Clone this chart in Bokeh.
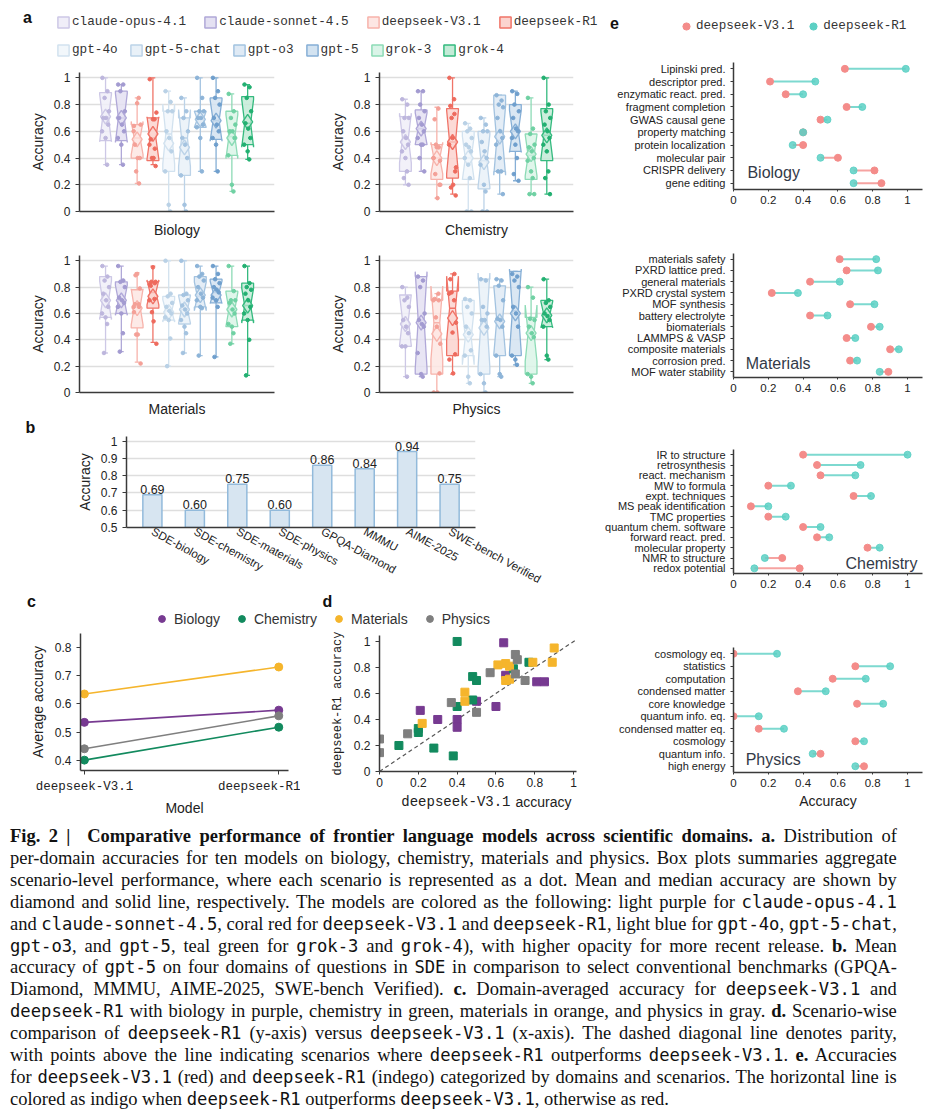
import math
from bokeh.plotting import figure
from bokeh.layouts import row, column
from bokeh.models import (Range1d, FixedTicker, CustomJSTickFormatter, Legend, LegendItem,
                          Label, LabelSet, ColumnDataSource, Slope, Div, Spacer)
from bokeh.embed import file_html
from bokeh.resources import INLINE
from bokeh.core.properties import value

# ======================= DATA =======================
MODELS = ["claude-opus-4.1", "claude-sonnet-4.5", "deepseek-V3.1", "deepseek-R1",
          "gpt-4o", "gpt-5-chat", "gpt-o3", "gpt-5", "grok-3", "grok-4"]
DOMAINS = ["Biology", "Chemistry", "Materials", "Physics"]

# ---- panel e (scenario accuracies for deepseek models) ----
bio_scen = ["Lipinski pred.", "descriptor pred.", "enzymatic react. pred.", "fragment completion",
            "GWAS causal gene", "property matching", "protein localization", "molecular pair",
            "CRISPR delivery", "gene editing"]
bio_v31 = [0.64, 0.21, 0.30, 0.65, 0.50, 0.40, 0.40, 0.60, 0.81, 0.85]
bio_r1 = [0.99, 0.47, 0.40, 0.74, 0.54, 0.40, 0.34, 0.50, 0.69, 0.69]

mat_scen = ["materials safety", "PXRD lattice pred.", "general materials", "PXRD crystal system",
            "MOF synthesis", "battery electrolyte", "biomaterials", "LAMMPS & VASP",
            "composite materials", "corrosion pred.", "MOF water stability"]
mat_v31 = [0.61, 0.65, 0.44, 0.22, 0.67, 0.44, 0.79, 0.65, 0.90, 0.67, 0.89]
mat_r1 = [0.82, 0.83, 0.61, 0.37, 0.81, 0.54, 0.84, 0.70, 0.95, 0.71, 0.84]

chem_scen = ["IR to structure", "retrosynthesis", "react. mechanism", "MW to formula",
             "expt. techniques", "MS peak identification", "TMC properties",
             "quantum chem. software", "forward react. pred.", "molecular property",
             "NMR to structure", "redox potential"]
chem_v31 = [0.40, 0.48, 0.50, 0.20, 0.69, 0.10, 0.20, 0.40, 0.48, 0.77, 0.28, 0.38]
chem_r1 = [1.00, 0.73, 0.70, 0.33, 0.79, 0.20, 0.30, 0.50, 0.55, 0.84, 0.18, 0.12]

phys_scen = ["cosmology eq.", "statistics", "computation", "condensed matter", "core knowledge",
             "quantum info. eq.", "condensed matter eq.", "cosmology", "quantum info.", "high energy"]
phys_v31 = [0.00, 0.70, 0.57, 0.37, 0.71, 0.00, 0.145, 0.70, 0.50, 0.75]
phys_r1 = [0.25, 0.90, 0.76, 0.53, 0.86, 0.145, 0.29, 0.75, 0.455, 0.70]

# ---- panel a box statistics (order of MODELS) ----
bio_lo = [0.35, 0.35, 0.21, 0.35, 0.00, 0.00, 0.30, 0.30, 0.15, 0.39]
bio_q1 = [0.53, 0.53, 0.40, 0.38, 0.30, 0.27, 0.63, 0.54, 0.42, 0.50]
bio_med = [0.70, 0.70, 0.55, 0.55, 0.58, 0.55, 0.69, 0.68, 0.56, 0.66]
bio_q3 = [0.89, 0.90, 0.65, 0.70, 0.75, 0.70, 0.75, 0.85, 0.75, 0.86]
bio_hi = [1.00, 0.95, 0.85, 1.00, 0.90, 0.85, 1.00, 1.00, 0.88, 0.95]
bio_mean = [0.71, 0.70, 0.54, 0.58, 0.51, 0.48, 0.69, 0.68, 0.55, 0.67]

chem_lo = [0.20, 0.30, 0.10, 0.13, 0.00, 0.00, 0.13, 0.23, 0.13, 0.13]
chem_q1 = [0.30, 0.50, 0.24, 0.25, 0.24, 0.17, 0.30, 0.45, 0.24, 0.38]
chem_med = [0.55, 0.62, 0.40, 0.52, 0.40, 0.38, 0.53, 0.60, 0.42, 0.57]
chem_q3 = [0.71, 0.76, 0.50, 0.77, 0.60, 0.60, 0.87, 0.80, 0.58, 0.77]
chem_hi = [0.84, 0.90, 0.78, 1.00, 0.66, 0.70, 0.87, 0.90, 0.85, 1.00]
chem_mean = [0.52, 0.62, 0.40, 0.52, 0.40, 0.37, 0.56, 0.60, 0.43, 0.57]

mat_lo = [0.30, 0.31, 0.23, 0.38, 0.20, 0.30, 0.28, 0.27, 0.37, 0.13]
mat_q1 = [0.57, 0.60, 0.49, 0.64, 0.55, 0.52, 0.65, 0.68, 0.50, 0.55]
mat_med = [0.70, 0.70, 0.65, 0.76, 0.62, 0.63, 0.73, 0.76, 0.63, 0.66]
mat_q3 = [0.88, 0.84, 0.78, 0.84, 0.73, 0.74, 0.88, 0.86, 0.77, 0.83]
mat_hi = [0.96, 0.96, 0.91, 0.96, 1.00, 1.00, 0.96, 0.96, 0.96, 0.96]
mat_mean = [0.70, 0.70, 0.64, 0.73, 0.61, 0.63, 0.74, 0.74, 0.63, 0.66]

phys_lo = [0.12, 0.12, 0.00, 0.14, 0.07, 0.00, 0.12, 0.21, 0.07, 0.25]
phys_q1 = [0.35, 0.14, 0.14, 0.28, 0.28, 0.14, 0.28, 0.28, 0.14, 0.50]
phys_med = [0.55, 0.55, 0.53, 0.64, 0.42, 0.55, 0.55, 0.62, 0.45, 0.59]
phys_q3 = [0.74, 0.88, 0.70, 0.77, 0.70, 0.86, 0.81, 0.92, 0.57, 0.70]
phys_hi = [0.80, 0.88, 0.75, 0.90, 0.71, 0.86, 0.86, 0.92, 0.80, 0.86]
phys_mean = [0.52, 0.53, 0.445, 0.565, 0.44, 0.49, 0.54, 0.60, 0.45, 0.585]

# ---- panel a scenario dots ----
bio_points = {
    "claude-opus-4.1": [1.0, 0.9, 0.85, 0.75, 0.7, 0.7, 0.65, 0.6, 0.55, 0.35],
    "claude-sonnet-4.5": [0.95, 0.95, 0.9, 0.75, 0.7, 0.65, 0.6, 0.55, 0.5, 0.35],
    "deepseek-V3.1": bio_v31, "deepseek-R1": bio_r1,
    "gpt-4o": [0.9, 0.82, 0.75, 0.75, 0.6, 0.55, 0.45, 0.3, 0.05, 0.0],
    "gpt-5-chat": [0.85, 0.75, 0.7, 0.6, 0.55, 0.5, 0.4, 0.27, 0.05, 0.0],
    "gpt-o3": [1.0, 0.85, 0.75, 0.75, 0.7, 0.7, 0.65, 0.63, 0.55, 0.3],
    "gpt-5": [1.0, 0.9, 0.85, 0.8, 0.7, 0.65, 0.6, 0.55, 0.5, 0.3],
    "grok-3": [0.88, 0.75, 0.7, 0.65, 0.6, 0.6, 0.55, 0.42, 0.2, 0.15],
    "grok-4": [0.95, 0.93, 0.85, 0.75, 0.66, 0.62, 0.55, 0.5, 0.45, 0.39],
}
chem_points = {
    "claude-opus-4.1": [0.84, 0.8, 0.7, 0.7, 0.6, 0.55, 0.5, 0.45, 0.4, 0.3, 0.25, 0.2],
    "claude-sonnet-4.5": [0.9, 0.9, 0.8, 0.75, 0.7, 0.65, 0.6, 0.55, 0.5, 0.5, 0.4, 0.3],
    "deepseek-V3.1": chem_v31, "deepseek-R1": chem_r1,
    "gpt-4o": [0.66, 0.62, 0.6, 0.55, 0.5, 0.48, 0.45, 0.4, 0.35, 0.25, 0.0, 0.0],
    "gpt-5-chat": [0.7, 0.65, 0.6, 0.6, 0.52, 0.45, 0.4, 0.35, 0.2, 0.15, 0.0, 0.0],
    "gpt-o3": [0.87, 0.83, 0.8, 0.78, 0.7, 0.6, 0.55, 0.5, 0.4, 0.3, 0.3, 0.13],
    "gpt-5": [0.9, 0.88, 0.8, 0.75, 0.7, 0.62, 0.6, 0.55, 0.5, 0.4, 0.28, 0.23],
    "grok-3": [0.85, 0.62, 0.58, 0.5, 0.48, 0.45, 0.4, 0.38, 0.3, 0.25, 0.13, 0.13],
    "grok-4": [1.0, 0.8, 0.75, 0.7, 0.65, 0.6, 0.55, 0.5, 0.45, 0.3, 0.25, 0.13],
}
mat_points = {
    "claude-opus-4.1": [0.96, 0.88, 0.85, 0.8, 0.75, 0.7, 0.65, 0.6, 0.57, 0.52, 0.3],
    "claude-sonnet-4.5": [0.96, 0.85, 0.84, 0.8, 0.72, 0.7, 0.68, 0.65, 0.6, 0.45, 0.31],
    "deepseek-V3.1": mat_v31, "deepseek-R1": mat_r1,
    "gpt-4o": [1.0, 0.75, 0.73, 0.68, 0.65, 0.62, 0.6, 0.57, 0.55, 0.41, 0.2],
    "gpt-5-chat": [1.0, 0.75, 0.74, 0.7, 0.66, 0.63, 0.6, 0.55, 0.5, 0.45, 0.3],
    "gpt-o3": [0.96, 0.9, 0.88, 0.85, 0.8, 0.75, 0.72, 0.7, 0.65, 0.64, 0.28],
    "gpt-5": [0.96, 0.9, 0.86, 0.83, 0.8, 0.78, 0.76, 0.72, 0.7, 0.65, 0.27],
    "grok-3": [0.96, 0.77, 0.7, 0.7, 0.68, 0.63, 0.6, 0.52, 0.5, 0.45, 0.37],
    "grok-4": [0.96, 0.83, 0.8, 0.78, 0.75, 0.7, 0.65, 0.6, 0.55, 0.4, 0.13],
}
phys_points = {
    "claude-opus-4.1": [0.8, 0.72, 0.7, 0.65, 0.55, 0.5, 0.45, 0.35, 0.35, 0.12],
    "claude-sonnet-4.5": [0.88, 0.85, 0.8, 0.6, 0.55, 0.52, 0.5, 0.3, 0.14, 0.12],
    "deepseek-V3.1": phys_v31, "deepseek-R1": phys_r1,
    "gpt-4o": [0.71, 0.7, 0.65, 0.6, 0.5, 0.45, 0.32, 0.28, 0.12, 0.07],
    "gpt-5-chat": [0.86, 0.85, 0.65, 0.6, 0.55, 0.55, 0.5, 0.14, 0.07, 0.0],
    "gpt-o3": [0.86, 0.85, 0.81, 0.7, 0.56, 0.55, 0.5, 0.28, 0.14, 0.12],
    "gpt-5": [0.9, 0.88, 0.85, 0.8, 0.65, 0.6, 0.5, 0.28, 0.25, 0.21],
    "grok-3": [0.8, 0.72, 0.56, 0.55, 0.5, 0.45, 0.42, 0.14, 0.12, 0.07],
    "grok-4": [0.86, 0.7, 0.68, 0.65, 0.6, 0.58, 0.55, 0.5, 0.28, 0.25],
}

# ---- panel b ----
b_labels = ["SDE-biology", "SDE-chemistry", "SDE-materials", "SDE-physics",
            "GPQA-Diamond", "MMMU", "AIME-2025", "SWE-bench Verified"]
b_vals = [0.69, 0.60, 0.75, 0.60, 0.86, 0.84, 0.94, 0.75]

# ---- panel c ----
c_models = ["deepseek-V3.1", "deepseek-R1"]
c_v31 = [0.535, 0.402, 0.635, 0.442]
c_r1 = [0.578, 0.518, 0.730, 0.558]

ticks01 = [0, 0.2, 0.4, 0.6, 0.8, 1]
ticks_b = [0.5, 0.6, 0.7, 0.8, 0.9, 1]
ticks_c = [0.4, 0.5, 0.6, 0.7, 0.8]

# ======================= STYLE =======================
SANS = "Liberation Sans"
MONO = "Liberation Mono"
INK = "#222222"
AXC = "#3a3a3a"
GRID = "#dedede"
MODEL_LINE = ["#cdc8e6", "#b0a8d8", "#f7b3ab", "#f07468", "#d2e2ef",
              "#bcd3e8", "#a3c3e0", "#86afd6", "#8ddbb6", "#35ba7f"]
MODEL_FILL = ["#f0eef8", "#e4e1f2", "#fde6e3", "#fbd4cf", "#f2f7fb",
              "#e9f1f8", "#dfeaf5", "#d3e3f1", "#daf4e8", "#c3ebd7"]
MODEL_PT = ["#bdb6dd", "#a39bd1", "#f4a097", "#ee6a5d", "#b9d1e6",
            "#a4c3e0", "#8db4d8", "#6f9fcd", "#6fd1a3", "#22b071"]
DOM_COL = ["#773a91", "#128a5e", "#f5b52c", "#7f7f7f"]
V31_COL = "#f48c8a"
R1_COL = "#5cd0c4"
JIT = [-0.2, 0.12, -0.06, 0.22, -0.14, 0.04, 0.17, -0.22, 0.0, 0.1, -0.1, 0.2]
BOX_W = 0.75
NAN = float("nan")

LEFT_W = 592
RIGHT_W = 335
E_L, E_R = 133, 13


def tick_fmt():
    return CustomJSTickFormatter(code="return String(Number(tick.toFixed(3)));")


def make_fig(w, h, l, r, t, b, xr, yr, axes=True):
    kw = {} if axes else dict(x_axis_location=None, y_axis_location=None)
    p = figure(width=w, height=h, x_range=xr, y_range=yr, output_backend="svg",
               toolbar_location=None, min_border_left=l, min_border_right=r,
               min_border_top=t, min_border_bottom=b, **kw)
    p.outline_line_color = None
    p.grid.visible = False
    return p


def strip(w, h):
    return make_fig(w, h, 0, 0, 0, 0, Range1d(0, 1), Range1d(0, 1), axes=False)


def iso(p):
    # wrap a figure on its own so that the layout does not align its frame with siblings
    return column(p)


def style_axis(ax, size="12px", font=SANS, tick_out=4):
    ax.axis_line_color = AXC
    ax.axis_line_width = 1.5
    ax.major_tick_line_color = AXC
    ax.major_tick_out = tick_out
    ax.major_tick_in = 0
    ax.minor_tick_line_color = None
    ax.major_label_text_font = font
    ax.major_label_text_font_size = size
    ax.major_label_text_color = INK
    ax.axis_label_text_font = SANS
    ax.axis_label_text_font_size = "14px"
    ax.axis_label_text_font_style = "normal"
    ax.axis_label_text_color = INK


def text_label(p, txt, x, y, size="16px", bold=True, font=SANS, align="center"):
    p.add_layout(Label(x=x, y=y, x_units="screen", y_units="screen", text=txt,
                       text_font=font, text_font_style="bold" if bold else "normal",
                       text_font_size=size, text_color="#111111" if bold else INK,
                       text_align=align, text_baseline="middle"))


# ======================= PANEL a =======================
def box_panel(w, h, l, r, t, b, dom, lo, q1, med, q3, hi, mean, pts, lab_standoff=10):
    n = len(pts[MODELS[0]])
    p = make_fig(w, h, l, r, t, b, Range1d(-1.65, 10.7), Range1d(0, 1.04))
    style_axis(p.yaxis)
    style_axis(p.xaxis)
    p.yaxis.ticker = FixedTicker(ticks=ticks01)
    p.yaxis.formatter = tick_fmt()
    p.yaxis.axis_label = "Accuracy"
    p.yaxis.axis_label_standoff = 5
    p.xaxis.ticker = FixedTicker(ticks=[])
    p.xaxis.major_tick_out = 0
    p.xaxis.axis_label = dom
    p.xaxis.axis_label_standoff = lab_standoff
    p.ygrid.visible = True
    p.ygrid.grid_line_color = GRID
    p.ygrid.grid_line_width = 1.5

    idx = list(range(len(MODELS)))
    xs, ys = [], []
    hw, wq = BOX_W / 2, BOX_W / 4
    for i in idx:
        notch = 1.57 * (q3[i] - q1[i]) / math.sqrt(n)
        a, bb = med[i] - notch, med[i] + notch
        xs.append([i - hw, i - hw, i - wq, i - hw, i - hw, i + hw, i + hw, i + wq, i + hw, i + hw])
        ys.append([q1[i], a, med[i], bb, q3[i], q3[i], bb, med[i], a, q1[i]])
    src = ColumnDataSource(dict(xs=xs, ys=ys, x=idx, lo=lo, q1=q1, med=med, q3=q3, hi=hi,
                                mean=mean, fill=MODEL_FILL, line=MODEL_LINE,
                                xl=[i - 0.15 for i in idx], xr=[i + 0.15 for i in idx],
                                ml=[i - wq for i in idx], mr=[i + wq for i in idx]))
    for y0, y1 in (("q3", "hi"), ("q1", "lo")):
        p.segment(x0="x", y0=y0, x1="x", y1=y1, line_color="line", line_width=1.3, source=src)
    for yy in ("hi", "lo"):
        p.segment(x0="xl", y0=yy, x1="xr", y1=yy, line_color="line", line_width=1.3, source=src)
    p.patches(xs="xs", ys="ys", fill_color="fill", fill_alpha=0.85, line_color="line",
              line_width=1.3, source=src)
    p.segment(x0="ml", y0="med", x1="mr", y1="med", line_color="line", line_width=1.6, source=src)
    p.scatter(x="x", y="mean", source=src, marker="diamond", size=15, fill_color="fill",
              fill_alpha=0.7, line_color="line", line_width=1.4)
    px, py, pc = [], [], []
    for i, m in enumerate(MODELS):
        for k, v in enumerate(pts[m]):
            px.append(i + JIT[k % len(JIT)])
            py.append(v)
            pc.append(MODEL_PT[i])
    p.scatter(x=px, y=py, size=3.6, color=pc)
    return p


legA = strip(LEFT_W, 60)
items1, items2 = [], []
for i, m in enumerate(MODELS):
    rr = legA.quad(left=[NAN], right=[NAN], top=[NAN], bottom=[NAN], fill_color=MODEL_FILL[i],
                   line_color=MODEL_LINE[i], line_width=1.5)
    (items1 if i < 4 else items2).append(LegendItem(label=m, renderers=[rr]))
for items, loc, sp in ((items1, (48, 39), 17), (items2, (48, 11), 11)):
    legA.add_layout(Legend(items=items, orientation="horizontal", location=loc, spacing=sp,
                           glyph_width=14, glyph_height=14, label_height=14, label_standoff=2,
                           padding=0, margin=0, border_line_color=None,
                           background_fill_alpha=0, label_text_font=MONO,
                           label_text_font_size="12.7px", label_text_color="#333333"))
text_label(legA, "a", 19, 51)

pbio = box_panel(292, 172, 71, 26, 4, 27, "Biology", bio_lo, bio_q1, bio_med, bio_q3, bio_hi, bio_mean, bio_points)
pchem = box_panel(300, 172, 79, 27, 4, 27, "Chemistry", chem_lo, chem_q1, chem_med, chem_q3, chem_hi, chem_mean, chem_points)
pmat = box_panel(292, 179, 71, 26, 15, 23, "Materials", mat_lo, mat_q1, mat_med, mat_q3, mat_hi, mat_mean, mat_points, 8)
pphys = box_panel(300, 179, 79, 27, 15, 23, "Physics", phys_lo, phys_q1, phys_med, phys_q3, phys_hi, phys_mean, phys_points, 8)

# ======================= PANEL b =======================
bStrip = strip(LEFT_W, 16)
text_label(bStrip, "b", 22, 8)

pb = make_fig(LEFT_W, 158, 118, 125, 1, 60, Range1d(-0.61, 7.61), Range1d(0.5, 1.027))
style_axis(pb.yaxis)
style_axis(pb.xaxis, size="11.5px", tick_out=0)
pb.yaxis.ticker = FixedTicker(ticks=ticks_b)
pb.yaxis.formatter = tick_fmt()
pb.yaxis.axis_label = "Accuracy"
pb.yaxis.axis_label_standoff = 5
pb.xaxis.ticker = FixedTicker(ticks=list(range(len(b_labels))))
pb.xaxis.major_label_overrides = {i: s for i, s in enumerate(b_labels)}
pb.xaxis.major_label_orientation = -0.5
pb.xaxis.major_label_standoff = 3
pb.ygrid.visible = True
pb.ygrid.grid_line_color = GRID
pb.ygrid.grid_line_width = 1.5
bsrc = ColumnDataSource(dict(x=list(range(len(b_vals))), top=b_vals,
                             lab=["%.2f" % v for v in b_vals]))
pb.vbar(x="x", top="top", bottom=0.5, width=0.45, source=bsrc, fill_color="#d7e5f1",
        line_color="#92badb", line_width=1.5)
pb.add_layout(LabelSet(x="x", y="top", text="lab", source=bsrc, text_align="center",
                       text_baseline="bottom", y_offset=1, text_font=value(SANS),
                       text_font_size="12.5px", text_color=INK))

# ======================= PANELS c / d legend =======================
legCD = strip(LEFT_W, 37)
cd_items = []
for d, col in zip(DOMAINS, DOM_COL):
    rr = legCD.scatter(x=[NAN], y=[NAN], size=8, color=col)
    cd_items.append(LegendItem(label=d, renderers=[rr]))
legCD.add_layout(Legend(items=cd_items, orientation="horizontal", location=(145, 3), spacing=13,
                        glyph_width=17, glyph_height=17, label_height=17, label_standoff=4,
                        padding=0, margin=0, border_line_color=None, background_fill_alpha=0,
                        label_text_font=SANS, label_text_font_size="14px",
                        label_text_color="#333333"))
text_label(legCD, "c", 23, 29)
text_label(legCD, "d", 319, 29)

# ======================= PANEL c =======================
pc = make_fig(292, 188, 72, 12, 3, 45, Range1d(-0.02, 1.05), Range1d(0.3655, 0.848))
style_axis(pc.yaxis)
style_axis(pc.xaxis, size="12.5px", font=MONO)
pc.yaxis.ticker = FixedTicker(ticks=ticks_c)
pc.yaxis.formatter = tick_fmt()
pc.yaxis.axis_label = "Average accuracy"
pc.yaxis.axis_label_standoff = 6
pc.xaxis.ticker = FixedTicker(ticks=list(range(len(c_models))))
pc.xaxis.major_label_overrides = {i: s for i, s in enumerate(c_models)}
pc.xaxis.axis_label = "Model"
pc.xaxis.axis_label_standoff = 3
cx = list(range(len(c_models)))
for k in range(len(DOMAINS)):
    pc.line(x=cx, y=[c_v31[k], c_r1[k]], line_color=DOM_COL[k], line_width=1.6)
    pc.scatter(x=cx, y=[c_v31[k], c_r1[k]], size=8, color=DOM_COL[k])

# ======================= PANEL d =======================
pdd = make_fig(300, 162, 79, 24, 5, 21, Range1d(0, 1.015), Range1d(0, 1.046))
style_axis(pdd.yaxis)
style_axis(pdd.xaxis, tick_out=3)
pdd.xaxis.major_label_standoff = 3
pdd.yaxis.ticker = FixedTicker(ticks=ticks01)
pdd.xaxis.ticker = FixedTicker(ticks=ticks01)
pdd.yaxis.formatter = tick_fmt()
pdd.xaxis.formatter = tick_fmt()
pdd.yaxis.axis_label = "deepseek-R1 accuracy"
pdd.yaxis.axis_label_text_font = MONO
pdd.yaxis.axis_label_text_font_size = "12px"
pdd.yaxis.axis_label_standoff = 6
pdd.add_layout(Slope(gradient=1, y_intercept=0, line_color="#555555", line_dash="4 3",
                     line_width=1.2, level="underlay"))
for (v, r), col in zip(((bio_v31, bio_r1), (chem_v31, chem_r1), (mat_v31, mat_r1),
                        (phys_v31, phys_r1)), DOM_COL):
    pdd.scatter(x=v, y=r, marker="square", size=8, color=col)

dStrip = strip(300, 26)
text_label(dStrip, "deepseek-V3.1", 210, 17, size="14px", bold=False, font=MONO, align="right")
text_label(dStrip, "accuracy", 215, 17, size="14px", bold=False, font=SANS, align="left")

# ======================= PANEL e =======================
eLeg = strip(RIGHT_W, 40)
e_items = []
for lab, col in (("deepseek-V3.1", V31_COL), ("deepseek-R1", R1_COL)):
    rr = eLeg.scatter(x=[NAN], y=[NAN], size=8, color=col)
    e_items.append(LegendItem(label=lab, renderers=[rr]))
eLeg.add_layout(Legend(items=e_items, orientation="horizontal", location=(77, 13), spacing=10,
                       glyph_width=18, glyph_height=18, label_height=18, label_standoff=1,
                       padding=0, margin=0, border_line_color=None, background_fill_alpha=0,
                       label_text_font=MONO, label_text_font_size="12.6px",
                       label_text_color="#333333"))
text_label(eLeg, "e", 14, 26)


def e_panel(h, t, b, scen, v31, r1, dom, lab_x, lab_y, lab_align, xlabel=None):
    N = len(scen)
    p = make_fig(RIGHT_W, h, E_L, E_R, t, b, Range1d(0, 1.086), Range1d(-0.5, N - 0.5))
    style_axis(p.yaxis, size="11px", tick_out=3)
    style_axis(p.xaxis, size="11.5px", tick_out=2)
    p.yaxis.major_label_standoff = 5
    ys = [N - 1 - i for i in range(N)]
    p.yaxis.ticker = FixedTicker(ticks=sorted(ys))
    p.yaxis.major_label_overrides = {N - 1 - i: s for i, s in enumerate(scen)}
    p.xaxis.ticker = FixedTicker(ticks=ticks01)
    p.xaxis.formatter = tick_fmt()
    p.xaxis.major_label_standoff = 4
    if xlabel:
        p.xaxis.axis_label = xlabel
        p.xaxis.axis_label_standoff = 3
    cols = [R1_COL if rv > vv else V31_COL for vv, rv in zip(v31, r1)]
    src = ColumnDataSource(dict(y=ys, v=v31, r=r1, col=cols))
    p.segment(x0="v", y0="y", x1="r", y1="y", line_color="col", line_width=2,
              line_alpha=0.8, source=src)
    p.scatter(x="v", y="y", size=7, color=V31_COL, source=src)
    p.scatter(x="r", y="y", size=7, color=R1_COL, alpha=0.85, source=src)
    p.add_layout(Label(x=lab_x, y=lab_y, text=dom, text_font=SANS, text_font_size="16px",
                       text_color="#333a48", text_align=lab_align, text_baseline="middle"))
    return p


eBio = e_panel(185, 14, 44, bio_scen, bio_v31, bio_r1, "Biology", 0.08, 0.85, "left")
eMat = e_panel(196, 20, 52, mat_scen, mat_v31, mat_r1, "Materials", 0.07, 0.71, "left")
eChem = e_panel(196, 20, 52, chem_scen, chem_v31, chem_r1, "Chemistry", 1.057, 0.49, "right")
ePhys = e_panel(193, 22, 46, phys_scen, phys_v31, phys_r1, "Physics", 0.07, 0.56, "left",
                xlabel="Accuracy")

# ======================= CAPTION =======================
def m(s):
    return ("<span style=\"font-family:'DejaVu Sans Mono';font-size:0.93em\">%s</span>" % s)


cap_lines = [
    "<b>Fig. 2&nbsp;|&nbsp; Comparative performance of frontier language models across scientific domains. a.</b> Distribution of",
    "per-domain accuracies for ten models on biology, chemistry, materials and physics. Box plots summaries aggregate",
    "scenario-level performance, where each scenario is represented as a dot. Mean and median accuracy are shown by",
    "diamond and solid line, respectively. The models are colored as the following: light purple for " + m("claude-opus-4.1"),
    "and " + m("claude-sonnet-4.5") + ", coral red for " + m("deepseek-V3.1") + " and " + m("deepseek-R1") + ", light blue for " + m("gpt-4o") + ", " + m("gpt-5-chat") + ",",
    m("gpt-o3") + ", and " + m("gpt-5") + ", teal green for " + m("grok-3") + " and " + m("grok-4") + "), with higher opacity for more recent release. <b>b.</b> Mean",
    "accuracy of " + m("gpt-5") + " on four domains of questions in " + m("SDE") + " in comparison to select conventional benchmarks (GPQA-",
    "Diamond, MMMU, AIME-2025, SWE-bench Verified). <b>c.</b> Domain-averaged accuracy for " + m("deepseek-V3.1") + " and",
    m("deepseek-R1") + " with biology in purple, chemistry in green, materials in orange, and physics in gray. <b>d.</b> Scenario-wise",
    "comparison of " + m("deepseek-R1") + " (y-axis) versus " + m("deepseek-V3.1") + " (x-axis). The dashed diagonal line denotes parity,",
    "with points above the line indicating scenarios where " + m("deepseek-R1") + " outperforms " + m("deepseek-V3.1") + ". <b>e.</b> Accuracies",
    "for " + m("deepseek-V3.1") + " (red) and " + m("deepseek-R1") + " (indego) categorized by domains and scenarios. The horizontal line is",
    "colored as indigo when " + m("deepseek-R1") + " outperforms " + m("deepseek-V3.1") + ", otherwise as red.",
]
html = ""
for k, ln in enumerate(cap_lines):
    last = "justify" if k < len(cap_lines) - 1 else "left"
    html += ("<div style=\"text-align:justify;text-align-last:%s;margin:0;padding:0\">%s</div>"
             % (last, ln))
caption = Div(text=html, width=930, height=290,
              styles={"font-family": "'Liberation Serif'", "font-size": "18.5px",
                      "line-height": "21.9px", "color": "#111111", "padding-top": "3px"})

left = column(iso(legA), row(pbio, pchem), row(pmat, pphys), iso(bStrip), iso(pb), iso(legCD),
              row(pc, column(iso(pdd), iso(dStrip))))
right = column(iso(eLeg), iso(eBio), iso(eMat), iso(eChem), iso(ePhys))
root = column(Spacer(height=8), row(Spacer(width=8), left, right),
              row(Spacer(width=5), caption))

open("out.html", "w").write(file_html(root, INLINE))
